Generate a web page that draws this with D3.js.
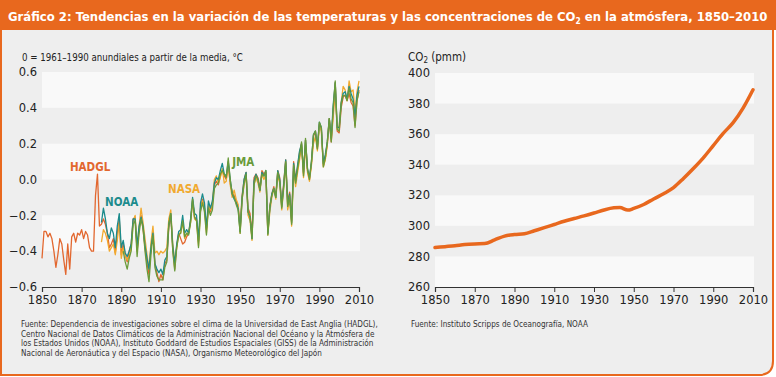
<!DOCTYPE html>
<html>
<head>
<meta charset="utf-8">
<script src="https://cdn.jsdelivr.net/npm/d3@7"></script>
<style>
  body { margin: 0; background: #fff; }
  svg { display: block; }
</style>
</head>
<body>
<div id="chart"></div>
<script>
// temperature anomalies, 0 = 1961-1990 mean, degrees C
const hadglStart = 1850;
const hadglValues = [
  -0.44, -0.29, -0.29, -0.32, -0.30, -0.33, -0.40, -0.49, -0.42, -0.33,
  -0.36, -0.45, -0.53, -0.36, -0.50, -0.32, -0.30, -0.35, -0.30, -0.31,
  -0.28, -0.33, -0.29, -0.31, -0.38, -0.40, -0.40, -0.09, 0.03, -0.26,
  -0.25, -0.22, -0.25, -0.30, -0.38, -0.36, -0.33, -0.41, -0.30, -0.22,
  -0.42, -0.36, -0.42, -0.46, -0.40, -0.36, -0.22, -0.21, -0.40, -0.28,
  -0.20, -0.28, -0.38, -0.47, -0.53, -0.38, -0.29, -0.47, -0.52, -0.57,
  -0.53, -0.56, -0.47, -0.45, -0.27, -0.20, -0.39, -0.50, -0.37, -0.30,
  -0.33, -0.36, -0.35, -0.32, -0.30, -0.23, -0.12, -0.21, -0.22, -0.35,
  -0.16, -0.11, -0.16, -0.28, -0.15, -0.18, -0.14, -0.03, -0.01, -0.03,
  0.02, 0.05, 0.02, 0.00, 0.08, -0.02, -0.07, -0.09, -0.12, -0.15,
  -0.27, -0.09, 0.00, 0.04, -0.16, -0.19, -0.31, 0.01, 0.03, 0.01,
  -0.05, 0.05, 0.03, 0.04, -0.29, -0.15, -0.08, -0.04, -0.09, 0.05,
  0.01, -0.14, -0.02, 0.11, -0.12, -0.07, -0.23, 0.10, 0.00, 0.07,
  0.15, 0.20, 0.03, 0.22, 0.05, 0.00, 0.09, 0.24, 0.27, 0.17,
  0.31, 0.28, 0.08, 0.12, 0.20, 0.34, 0.21, 0.39, 0.54, 0.27,
  0.26, 0.40, 0.46, 0.47, 0.44, 0.48, 0.43, 0.41, 0.30, 0.44,
  0.50
];
const noaaStart = 1880;
const noaaValues = [
  -0.24, -0.16, -0.22, -0.30, -0.33, -0.27, -0.30, -0.38, -0.26, -0.19,
  -0.38, -0.34, -0.41, -0.43, -0.40, -0.36, -0.22, -0.22, -0.37, -0.26,
  -0.21, -0.26, -0.37, -0.44, -0.50, -0.38, -0.30, -0.47, -0.50, -0.52,
  -0.50, -0.53, -0.45, -0.43, -0.25, -0.19, -0.37, -0.47, -0.36, -0.29,
  -0.28, -0.20, -0.30, -0.28, -0.30, -0.22, -0.10, -0.19, -0.20, -0.34,
  -0.13, -0.08, -0.13, -0.27, -0.12, -0.16, -0.12, -0.02, 0.01, 0.00,
  0.05, 0.09, 0.03, 0.02, 0.10, 0.00, -0.08, -0.11, -0.13, -0.16,
  -0.29, -0.10, 0.00, 0.04, -0.18, -0.21, -0.33, -0.01, 0.03, 0.00,
  -0.06, 0.04, 0.02, 0.05, -0.30, -0.16, -0.08, -0.05, -0.10, 0.05,
  0.00, -0.15, -0.03, 0.11, -0.14, -0.08, -0.24, 0.09, -0.01, 0.08,
  0.16, 0.20, 0.04, 0.22, 0.06, 0.01, 0.10, 0.25, 0.27, 0.18,
  0.32, 0.29, 0.09, 0.14, 0.21, 0.34, 0.23, 0.42, 0.54, 0.29,
  0.29, 0.43, 0.48, 0.49, 0.45, 0.52, 0.48, 0.45, 0.35, 0.47,
  0.52
];
const nasaStart = 1880;
const nasaValues = [
  -0.35, -0.28, -0.30, -0.34, -0.40, -0.38, -0.36, -0.42, -0.34, -0.24,
  -0.44, -0.38, -0.42, -0.45, -0.43, -0.38, -0.24, -0.20, -0.39, -0.26,
  -0.16, -0.24, -0.33, -0.42, -0.50, -0.35, -0.26, -0.41, -0.40, -0.42,
  -0.40, -0.41, -0.40, -0.38, -0.22, -0.17, -0.36, -0.46, -0.38, -0.30,
  -0.30, -0.24, -0.33, -0.30, -0.30, -0.24, -0.11, -0.22, -0.23, -0.37,
  -0.17, -0.12, -0.15, -0.30, -0.14, -0.17, -0.13, 0.00, 0.02, -0.02,
  0.01, 0.06, -0.02, -0.01, 0.09, -0.03, -0.10, -0.06, -0.11, -0.14,
  -0.30, -0.11, -0.03, 0.03, -0.20, -0.23, -0.34, -0.03, 0.01, -0.02,
  -0.07, 0.03, 0.00, 0.03, -0.31, -0.18, -0.10, -0.05, -0.11, 0.02,
  -0.02, -0.17, -0.05, 0.09, -0.17, -0.11, -0.26, 0.05, -0.04, 0.04,
  0.11, 0.19, 0.01, 0.19, 0.04, -0.01, 0.08, 0.20, 0.24, 0.16,
  0.30, 0.27, 0.07, 0.11, 0.19, 0.34, 0.22, 0.35, 0.49, 0.28,
  0.30, 0.43, 0.52, 0.50, 0.44, 0.55, 0.49, 0.50, 0.38, 0.49,
  0.55
];
const jmaStart = 1891;
const jmaValues = [
  -0.40, -0.46, -0.50, -0.44, -0.40, -0.25, -0.23, -0.43, -0.30,
  -0.22, -0.27, -0.40, -0.50, -0.57, -0.42, -0.31, -0.49, -0.54, -0.56,
  -0.56, -0.56, -0.49, -0.46, -0.25, -0.19, -0.40, -0.51, -0.38, -0.31,
  -0.30, -0.23, -0.32, -0.30, -0.31, -0.24, -0.11, -0.21, -0.23, -0.38,
  -0.18, -0.13, -0.18, -0.31, -0.16, -0.20, -0.17, -0.05, -0.03, -0.02,
  0.03, 0.05, 0.03, 0.01, 0.12, 0.00, -0.08, -0.10, -0.14, -0.17,
  -0.30, -0.11, -0.02, 0.03, -0.18, -0.21, -0.33, -0.03, 0.02, 0.00,
  -0.06, 0.03, 0.02, 0.05, -0.31, -0.15, -0.09, -0.05, -0.10, 0.04,
  -0.01, -0.16, -0.04, 0.10, -0.15, -0.09, -0.25, 0.08, -0.02, 0.06,
  0.13, 0.21, 0.02, 0.23, 0.06, 0.00, 0.10, 0.25, 0.27, 0.17,
  0.32, 0.29, 0.07, 0.12, 0.21, 0.34, 0.21, 0.40, 0.55, 0.28,
  0.27, 0.42, 0.47, 0.47, 0.44, 0.51, 0.45, 0.43, 0.29, 0.44,
  0.49
];

// CO2 concentration, ppm
const co2Years = [1850, 1855, 1860, 1865, 1870, 1875, 1880, 1885, 1890, 1895,
  1900, 1905, 1910, 1915, 1920, 1925, 1930, 1935, 1940, 1943, 1947, 1950,
  1955, 1960, 1965, 1970, 1975, 1980, 1985, 1990, 1995, 2000, 2005, 2010];
const co2Values = [285.8, 286.4, 287.0, 287.8, 288.2, 288.4, 290.8, 293.3, 294.3, 294.8,
  296.8, 298.8, 300.9, 303.0, 304.8, 306.5, 308.4, 310.4, 311.8, 312.0, 310.3, 311.4,
  314.0, 317.6, 321.0, 325.0, 331.0, 337.5, 344.5, 352.5, 360.5, 367.5, 377.0, 389.0];

const yearTicks = [1850, 1870, 1890, 1910, 1930, 1950, 1970, 1990, 2010];
const tempTicks = [-0.6, -0.4, -0.2, 0, 0.2, 0.4, 0.6];
const co2Ticks = [260, 280, 300, 320, 340, 360, 380, 400];

const sourceTempLines = [
  "Fuente:  Dependencia de investigaciones sobre el clima de la Universidad de East Anglia (HADGL),",
  "Centro Nacional de Datos Climáticos de la Administración Nacional del Océano y la Atmósfera de",
  "los Estados Unidos (NOAA), Instituto Goddard de Estudios Espaciales (GISS) de la Administración",
  "Nacional de Aeronáutica y del Espacio (NASA), Organismo Meteorológico del Japón"
];
const sourceCo2 = "Fuente: Instituto Scripps de Oceanografía, NOAA";

const NARROW = "'Liberation Sans Narrow', 'DejaVu Sans Condensed', sans-serif";
const TICKFONT = "'DejaVu Sans', Verdana, sans-serif";
const ORANGE = "#e8681e";
const PANEL = "#eeeeee";
const BAND = "#f9f9f9";

const width = 776, height = 377;

const svg = d3.select("#chart")
  .append("svg")
    .attr("width", width)
    .attr("height", height);

// frame: orange title bar + grey panel with rounded bottom-right corner
svg.append("rect")
  .attr("x", 0).attr("y", 0)
  .attr("width", width).attr("height", 30)
  .attr("fill", ORANGE);

const r = 14;
svg.append("path")
  .attr("d", `M1,29 H773 V${375 - r} Q773,375 ${773 - r},375 H1 Z`)
  .attr("fill", PANEL)
  .attr("stroke", ORANGE)
  .attr("stroke-width", 2);

// scale a text's font size so it spans the target width
function fitText(sel, target) {
  const w = sel.node().getComputedTextLength();
  if (w > 0) {
    const k = target / w;
    sel.attr("font-size", parseFloat(sel.attr("font-size")) * k);
    sel.selectAll("tspan").each(function() {
      const t = d3.select(this);
      if (t.attr("font-size")) t.attr("font-size", parseFloat(t.attr("font-size")) * k);
    });
    return k;
  }
  return 1;
}

const title = svg.append("text")
  .attr("x", 8).attr("y", 21)
  .attr("fill", "#fff")
  .attr("font-family", NARROW)
  .attr("font-weight", "bold")
  .attr("font-size", 15.5);
title.append("tspan").text("Gráfico 2: Tendencias en la variación de las temperaturas y las concentraciones de CO");
title.append("tspan").attr("font-size", 10).attr("dy", 3).text("2");
title.append("tspan").attr("dy", -3).text(" en la atmósfera, 1850–2010");
fitText(title, 760);

function drawPanel(opts) {
  const { left, right, top, bottom, yDomain, yTicks, tickFormat } = opts;
  const x = d3.scaleLinear().domain([1850, 2010]).range([left, right]);
  const y = d3.scaleLinear().domain(yDomain).range([bottom, top]);
  const g = svg.append("g");

  // alternating bands, white band on top
  const intervals = d3.pairs(yTicks.slice().reverse());
  g.selectAll("rect.band")
    .data(intervals.filter((d, i) => i % 2 === 0))
    .enter()
    .append("rect")
      .attr("class", "band")
      .attr("x", left)
      .attr("width", right - left + 1)
      .attr("y", d => y(d[0]))
      .attr("height", d => y(d[1]) - y(d[0]))
      .attr("fill", BAND);

  const xAxis = g.append("g")
    .attr("transform", `translate(0,${bottom})`)
    .call(d3.axisBottom(x).tickValues(yearTicks).tickFormat(d3.format("d")).tickSize(5).tickPadding(4));
  xAxis.select(".domain").attr("stroke", "#333").attr("stroke-width", 1.2);
  xAxis.selectAll(".tick line").attr("stroke", "#333");
  xAxis.selectAll("text")
    .attr("font-family", TICKFONT)
    .attr("font-size", 11.5)
    .attr("fill", "#222");

  const yAxis = g.append("g")
    .attr("transform", `translate(${left},0)`)
    .call(d3.axisLeft(y).tickValues(yTicks).tickFormat(tickFormat).tickSize(0).tickPadding(5));
  yAxis.select(".domain").remove();
  yAxis.selectAll("text")
    .attr("font-family", TICKFONT)
    .attr("font-size", 11.5)
    .attr("fill", "#222");

  return { g, x, y };
}

// ---- left: temperatures
const tp = drawPanel({
  left: 42, right: 359, top: 72, bottom: 287,
  yDomain: [-0.6, 0.6], yTicks: tempTicks,
  tickFormat: d3.format(".1f")
});

const sub1 = svg.append("text")
  .attr("x", 22).attr("y", 61)
  .attr("font-family", NARROW)
  .attr("font-size", 11.5)
  .attr("fill", "#222")
  .text("0 = 1961–1990 anundiales a partir de la media, °C");
fitText(sub1, 221);

const tempSeries = [
  { name: "HADGL", start: hadglStart, values: hadglValues, color: "#e2672f", label: [1864.1, 0.048] },
  { name: "NASA", start: nasaStart, values: nasaValues, color: "#f1a92e", label: [1913.6, -0.075] },
  { name: "NOAA", start: noaaStart, values: noaaValues, color: "#1b8b8c", label: [1881.8, -0.148] },
  { name: "JMA", start: jmaStart, values: jmaValues, color: "#6a9b3a", label: [1946, 0.075] }
];

const tempLine = d3.line()
  .x(d => tp.x(d.year))
  .y(d => tp.y(d.value));

tempSeries.forEach(s => {
  const pts = s.values.map((v, i) => ({ year: s.start + i, value: v }));
  tp.g.append("path")
    .datum(pts)
    .attr("fill", "none")
    .attr("stroke", s.color)
    .attr("stroke-width", 1.3)
    .attr("stroke-linejoin", "round")
    .attr("d", tempLine);
});

tempSeries.forEach(s => {
  tp.g.append("text")
    .attr("x", tp.x(s.label[0]))
    .attr("y", tp.y(s.label[1]))
    .attr("font-family", NARROW)
    .attr("font-weight", "bold")
    .attr("font-size", 11.5)
    .attr("fill", s.color)
    .text(s.name);
});

// source lines share one font size, taken from the first line's width
const srcText = svg.append("g")
  .attr("font-family", NARROW)
  .attr("fill", "#333");
const src0 = srcText.append("text")
  .attr("x", 21).attr("y", 327)
  .attr("font-size", 8.5)
  .text(sourceTempLines[0]);
fitText(src0, 357);
const srcSize = src0.attr("font-size");
sourceTempLines.slice(1).forEach((line, i) => {
  srcText.append("text")
    .attr("x", 21)
    .attr("y", 327 + (i + 1) * 9.5)
    .attr("font-size", srcSize)
    .text(line);
});

// ---- right: CO2
const cp = drawPanel({
  left: 435, right: 753, top: 73, bottom: 287,
  yDomain: [260, 400], yTicks: co2Ticks,
  tickFormat: d3.format("d")
});

const sub2 = svg.append("text")
  .attr("x", 408).attr("y", 61)
  .attr("font-family", NARROW)
  .attr("font-size", 11.5)
  .attr("fill", "#222");
sub2.append("tspan").text("CO");
sub2.append("tspan").attr("font-size", 8).attr("dy", 2).text("2");
sub2.append("tspan").attr("dy", -2).text(" (pmm)");

cp.g.append("path")
  .datum(co2Years.map((yr, i) => ({ year: yr, value: co2Values[i] })))
  .attr("fill", "none")
  .attr("stroke", ORANGE)
  .attr("stroke-width", 3.5)
  .attr("stroke-linecap", "round")
  .attr("d", d3.line()
    .curve(d3.curveMonotoneX)
    .x(d => cp.x(d.year))
    .y(d => cp.y(d.value))
  );

svg.append("text")
  .attr("x", 411).attr("y", 327)
  .attr("font-family", NARROW)
  .attr("font-size", srcSize)
  .attr("fill", "#333")
  .text(sourceCo2);
</script>
</body>
</html>
